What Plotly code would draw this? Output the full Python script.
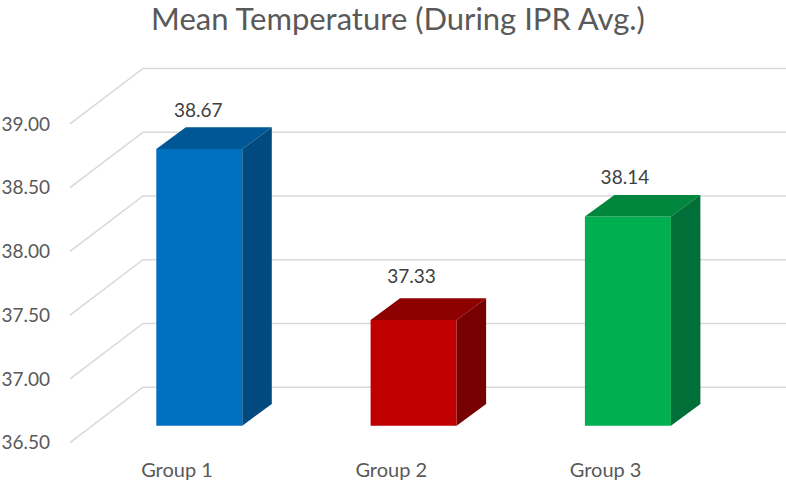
import plotly.graph_objects as go

categories = ["Group 1", "Group 2", "Group 3"]
values = [38.67, 37.33, 38.14]
axis_ticks = [36.5, 37.0, 37.5, 38.0, 38.5, 39.0]
axis_labels = ["36.50", "37.00", "37.50", "38.00", "38.50", "39.00"]
base_value = 36.5

front_colors = ["#0070C0", "#C00000", "#00B050"]
top_colors = ["#005796", "#8C0000", "#00863D"]
side_colors = ["#004A80", "#770000", "#006F38"]
label_lift_px = [37, 42, 37]
label_shift_px = [-1, -2, -3]

W, H = 786, 481
L, R, T, B = 51, 0, 45, 29
PX_PER_X = 214.3
PX_PER_Y = 127.5
GROUND_X0 = 177.0      # pixel of category 0 on the front plane
FRONT_Y0 = 442.7       # pixel of base value on the front plane
BAR_DX, BAR_DY = 22.3, 17.0      # bar front plane relative to chart front
DEPTH_BAR_X, DEPTH_BAR_Y = 29.5, 21.7
WALL_DX, WALL_DY = 73.0, 55.5
START_X = 70.0
BAR_W = 86 / PX_PER_X

x_lo = (L - GROUND_X0) / PX_PER_X
x_hi = (W - GROUND_X0) / PX_PER_X
y_lo = base_value - (H - B - FRONT_Y0) / PX_PER_Y
y_hi = base_value + (FRONT_Y0 - T) / PX_PER_Y
shift = BAR_DY / PX_PER_Y

fig = go.Figure()

# floor/wall gridlines
wall_x0 = x_lo + (START_X - L) / PX_PER_X
wall_x1 = wall_x0 + WALL_DX / PX_PER_X
wall_up = WALL_DY / PX_PER_Y
for v in axis_ticks:
    fig.add_trace(go.Scatter(
        x=[wall_x0, wall_x1, x_hi], y=[v, v + wall_up, v + wall_up],
        mode="lines", line=dict(color="#D9D9D9", width=1.6),
        hoverinfo="skip", showlegend=False, cliponaxis=False))

# bar fronts
bar_dx = BAR_DX / PX_PER_X
bar_x = [i + bar_dx for i in range(len(categories))]
fig.add_trace(go.Bar(
    x=bar_x, y=[v - base_value for v in values], base=base_value, width=BAR_W,
    marker=dict(color=front_colors, line=dict(width=0)), yaxis="y2",
    customdata=categories, hovertemplate="%{customdata}: %{y:.2f}<extra></extra>",
    showlegend=False))

# bar tops and sides
ddx = DEPTH_BAR_X / PX_PER_X
ddy = DEPTH_BAR_Y / PX_PER_Y
for cx, v, ct, cs in zip(bar_x, values, top_colors, side_colors):
    xl, xr = cx - BAR_W / 2, cx + BAR_W / 2
    fig.add_trace(go.Scatter(
        x=[xl, xr, xr + ddx, xl + ddx, xl], y=[v, v, v + ddy, v + ddy, v],
        mode="lines", fill="toself", fillcolor=ct, line=dict(width=0),
        yaxis="y2", hoverinfo="skip", showlegend=False))
    fig.add_trace(go.Scatter(
        x=[xr, xr + ddx, xr + ddx, xr, xr],
        y=[v, v + ddy, base_value + ddy, base_value, v],
        mode="lines", fill="toself", fillcolor=cs, line=dict(width=0),
        yaxis="y2", hoverinfo="skip", showlegend=False))

# data labels
fig.add_trace(go.Scatter(
    x=[c + s / PX_PER_X for c, s in zip(bar_x, label_shift_px)],
    y=[v + l / PX_PER_Y for v, l in zip(values, label_lift_px)],
    text=[f"{v:.2f}" for v in values], mode="text", textposition="middle center",
    textfont=dict(family="Lato", size=19, color="#404040"),
    yaxis="y2", hoverinfo="skip", showlegend=False))

fig.update_layout(
    width=W, height=H,
    margin=dict(l=L, r=R, t=T, b=B, autoexpand=False),
    paper_bgcolor="white", plot_bgcolor="white", showlegend=False,
    title=dict(text="Mean Temperature (During IPR Avg.)",
               x=398 / W, xanchor="center", y=1 - 19 / H, yanchor="middle",
               font=dict(family="Lato", size=31, color="#595959")),
    xaxis=dict(range=[x_lo, x_hi], tickmode="array",
               tickvals=list(range(len(categories))), ticktext=categories,
               showgrid=False, zeroline=False, showline=False, ticks="",
               ticklabelstandoff=4,
               tickfont=dict(family="Lato", size=20, color="#595959")),
    yaxis=dict(range=[y_lo, y_hi], tickmode="array", tickvals=axis_ticks,
               ticktext=axis_labels, showgrid=False, zeroline=False,
               showline=False, ticks="",
               tickfont=dict(family="Lato", size=19, color="#595959")),
    yaxis2=dict(range=[y_lo - shift, y_hi - shift], overlaying="y", side="left",
                visible=False),
)

fig.write_html("out.html", config={"displayModeBar": False},
               post_script="document.body.style.margin='0';")
